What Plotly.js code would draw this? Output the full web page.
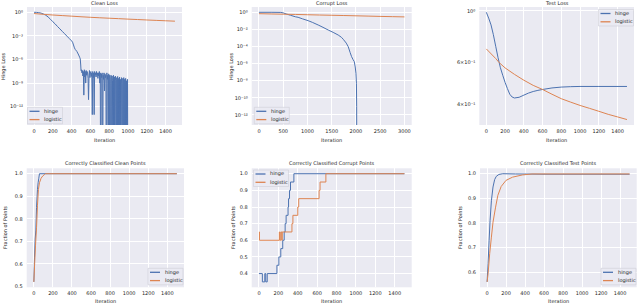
<!DOCTYPE html>
<html><head><meta charset="utf-8">
<script src="https://cdn.plot.ly/plotly-3.0.1.min.js"></script>
<style>html,body{margin:0;padding:0;background:#fff}#chart{width:640px;height:304px}</style>
</head><body><div id="chart"></div>
<script>
const seriesNames = ['hinge', 'logistic'];
const seriesColors = ['#4C72B0', '#DD8452'];

// ---- Clean Loss (top-left) ----
const cleanLossHingeIter = [0,25,50,75,100,125,150,175,200,225,250,275,300,325,350,375,400,410,420,430,440,455,470,485,492,497,500];
const cleanLossHingeVal = [1,0.97,0.9,0.78,0.6,0.42,0.25,0.13,0.063,0.033,0.0155,0.0078,0.0038,0.0019,9.3e-4,4.6e-4,2.3e-4,1.6e-4,7e-5,3e-5,1.8e-5,1.1e-5,5e-6,2e-6,1.2e-6,2e-7,4e-8];
const cleanLossHingeNoiseStart = 505;
const cleanLossHingeNoiseStep = 5;
const cleanLossHingeNoise = [
  5e-8,2e-8,4e-8,8e-9,3e-8,3e-11,5e-8,6e-9,3e-8,1e-9,4e-8,1e-8,3e-8,2e-8,4e-9,8e-12,1e-8,4e-8,5e-9,2e-8,
  3e-8,7e-9,2e-8,1e-13,3e-8,5e-9,2e-8,1e-13,3e-8,1e-8,2e-8,6e-9,3e-8,1e-8,2e-8,4e-9,2e-8,8e-9,3e-8,1e-9,
  2e-8,0,1.5e-8,5e-9,2e-8,0,1e-8,3e-9,2e-8,1e-10,1.5e-8,5e-9,1e-8,0,2e-8,3e-9,1e-8,0,1.5e-8,0,
  1e-8,3e-9,0,1e-8,0,8e-9,2e-9,0,1e-8,0,6e-9,0,8e-9,2e-9,0,5e-9,0,7e-9,0,4e-9,
  0,6e-9,0,3e-9,0,5e-9,1e-9,0,4e-9,0,5e-9,0,3e-9,0,4e-9,0,2e-9,0,3e-9,0
];
const cleanLossHingeTailIter = [1500];
const cleanLossHingeTailVal = [0];
const cleanLossLogisticIter = [0,100,200,300,400,500,600,700,800,900,1000,1100,1200,1300,1400,1500];
const cleanLossLogisticVal = [0.69,0.55,0.45,0.38,0.32,0.27,0.23,0.2,0.175,0.155,0.135,0.12,0.105,0.093,0.083,0.074];

// ---- Corrupt Loss (top-middle) ----
const corruptLossHingeIter = [0,250,450,500,566,650,750,807,900,1014,1100,1221,1300,1428,1530,1634,1700,1738,1800,1841,1880,1910,1940,1966,1985,2000,2010,2015,2020,3000];
const corruptLossHingeVal = [1,1,0.97,0.85,0.63,0.45,0.3,0.26,0.17,0.105,0.067,0.033,0.02,0.0085,0.0045,0.0022,0.0012,7e-4,2.5e-4,9.5e-5,2e-5,6.5e-6,3e-6,1.7e-6,4e-7,7.4e-8,5e-9,1e-11,0,0];
const corruptLossLogisticIter = [0,250,500,750,1000,1250,1500,1750,2000,2250,2500,2750,3000];
const corruptLossLogisticVal = [0.69,0.64,0.6,0.56,0.52,0.48,0.45,0.42,0.39,0.36,0.33,0.31,0.29];

// ---- Test Loss (top-right) ----
const testLossHingeIter = [0,25,50,75,100,125,150,175,200,225,250,275,300,350,400,450,500,550,600,700,800,900,1000,1200,1500];
const testLossHingeVal = [0.985,0.93,0.87,0.79,0.705,0.63,0.571,0.53,0.494,0.465,0.44,0.428,0.424,0.427,0.436,0.445,0.452,0.457,0.461,0.468,0.472,0.474,0.475,0.475,0.475];
const testLossLogisticIter = [0,100,138,200,300,400,500,600,700,800,900,1000,1100,1200,1300,1400,1500];
const testLossLogisticVal = [0.687,0.625,0.6,0.57,0.535,0.505,0.48,0.461,0.44,0.421,0.407,0.394,0.383,0.372,0.361,0.352,0.343];

// ---- Correctly Classified Clean Points (bottom-left) ----
const cleanAccHingeIter = [0,7,14,21,28,38,45,52,59,1500];
const cleanAccHingeVal = [0.52,0.63,0.71,0.75,0.85,0.93,0.96,0.98,1.0,1.0];
const cleanAccLogisticIter = [0,7,17,28,38,48,59,76,93,114,121,1500];
const cleanAccLogisticVal = [0.52,0.59,0.68,0.76,0.86,0.93,0.96,0.98,0.99,0.997,1.0,1.0];

// ---- Correctly Classified Corrupt Points (bottom-middle), step changes ----
const corruptAccHingeIter = [0,35,60,70,85,185,205,225,245,260,270,280,300,305,315,325,360,1500];
const corruptAccHingeVal = [0.40,0.35,0.40,0.35,0.40,0.45,0.50,0.55,0.60,0.65,0.70,0.75,0.80,0.85,0.90,0.95,1.00,1.00];
const corruptAccLogisticIter = [0,5,210,215,225,235,240,340,350,400,410,620,630,690,1500];
const corruptAccLogisticVal = [0.65,0.60,0.65,0.60,0.65,0.60,0.65,0.70,0.75,0.80,0.85,0.90,0.95,1.00,1.00];

// ---- Correctly Classified Test Points (bottom-right) ----
const testAccHingeIter = [0,10,21,31,45,62,79,96,124,165,300,600,1000,1500];
const testAccHingeVal = [0.56,0.634,0.729,0.81,0.89,0.946,0.976,0.989,0.997,1.0,0.999,0.998,0.998,0.998];
const testAccLogisticIter = [0,10,27,45,62,89,113,148,199,268,371,474,800,1500];
const testAccLogisticVal = [0.56,0.593,0.675,0.742,0.803,0.864,0.912,0.948,0.973,0.986,0.995,0.999,0.999,0.999];

// tick labels
const iterTicks1500 = [0,200,400,600,800,1000,1200,1400];
const iterTicks3000 = [0,500,1000,1500,2000,2500,3000];
const cleanLossTickVals = [1,1e-3,1e-6,1e-9,1e-12];
const cleanLossTickText = ['10⁰','10⁻³','10⁻⁶','10⁻⁹','10⁻¹²'];
const corruptLossTickVals = [1,1e-2,1e-4,1e-6,1e-8,1e-10,1e-12];
const corruptLossTickText = ['10⁰','10⁻²','10⁻⁴','10⁻⁶','10⁻⁸','10⁻¹⁰','10⁻¹²'];
const testLossTickVals = [1,0.6,0.4];
const testLossTickText = ['10⁰','6×10⁻¹','4×10⁻¹'];
const cleanAccTicks = [0.5,0.6,0.7,0.8,0.9,1.0];
const corruptAccTicks = [0.4,0.5,0.6,0.7,0.8,0.9,1.0];
const testAccTicks = [0.6,0.7,0.8,0.9,1.0];

// ------- build -------
const W = 640, H = 304;
const px = x => x / W;
const py = y => 1 - y / H;
const logSafe = arr => arr.map(v => v > 0 ? v : 1e-30); // zeros fall off the log axis, as in matplotlib

const noiseIter = cleanLossHingeNoise.map((_, i) => cleanLossHingeNoiseStart + i * cleanLossHingeNoiseStep);
const cleanHingeX = cleanLossHingeIter.concat(noiseIter, cleanLossHingeTailIter);
const cleanHingeY = cleanLossHingeVal.concat(cleanLossHingeNoise, cleanLossHingeTailVal);

function tr(x, y, k, xa, ya, shape) {
  return {x: x, y: y, type: 'scatter', mode: 'lines', name: seriesNames[k], showlegend: false,
    xaxis: xa, yaxis: ya, line: {color: seriesColors[k], width: 1, shape: shape || 'linear', simplify: false},
    hoverinfo: 'skip'};
}
const data = [
  tr(cleanHingeX, logSafe(cleanHingeY), 0, 'x', 'y'),
  tr(cleanLossLogisticIter, cleanLossLogisticVal, 1, 'x', 'y'),
  tr(corruptLossHingeIter, logSafe(corruptLossHingeVal), 0, 'x2', 'y2'),
  tr(corruptLossLogisticIter, corruptLossLogisticVal, 1, 'x2', 'y2'),
  tr(testLossHingeIter, testLossHingeVal, 0, 'x3', 'y3'),
  tr(testLossLogisticIter, testLossLogisticVal, 1, 'x3', 'y3'),
  tr(cleanAccHingeIter, cleanAccHingeVal, 0, 'x4', 'y4'),
  tr(cleanAccLogisticIter, cleanAccLogisticVal, 1, 'x4', 'y4'),
  tr(corruptAccHingeIter, corruptAccHingeVal, 0, 'x5', 'y5', 'hv'),
  tr(corruptAccLogisticIter, corruptAccLogisticVal, 1, 'x5', 'y5', 'hv'),
  tr(testAccHingeIter, testAccHingeVal, 0, 'x6', 'y6'),
  tr(testAccLogisticIter, testAccLogisticVal, 1, 'x6', 'y6')
];

const FONT = 'DejaVu Sans, sans-serif';
const TXT = '#262626';
const tickFont = {family: FONT, size: 5, color: TXT};
function xax(l, r, anchor, range, ticks) {
  return {domain: [px(l), px(r)], anchor: anchor, range: range, tickmode: 'array', tickvals: ticks,
    ticktext: ticks.map(String), showgrid: true, gridcolor: '#ffffff', gridwidth: 1, zeroline: false,
    showline: false, ticks: '', tickfont: tickFont, ticklabelstandoff: 2, fixedrange: true};
}
function yax(t, b, anchor, type, range, vals, text, grid) {
  return {domain: [py(b), py(t)], anchor: anchor, type: type, range: range, tickmode: 'array', tickvals: vals,
    ticktext: text, showgrid: grid !== false, gridcolor: '#ffffff', gridwidth: 1, zeroline: false,
    showline: false, ticks: '', tickfont: tickFont, ticklabelstandoff: 3, fixedrange: true};
}
const TOP = [7, 125], BOT = [168.3, 287.3];
const cols = [[27, 182], [251.7, 411.7], [479.3, 634], [26.7, 184], [251.7, 411.7], [480, 636.7]];

const layout = {
  width: W, height: H, margin: {l: 0, r: 0, t: 0, b: 0}, paper_bgcolor: '#ffffff', plot_bgcolor: '#EAEAF2',
  showlegend: false,
  xaxis: xax(cols[0][0], cols[0][1], 'y', [-75, 1575], iterTicks1500),
  yaxis: yax(TOP[0], TOP[1], 'x', 'log', [-14.32, 0.67], cleanLossTickVals, cleanLossTickText),
  xaxis2: xax(cols[1][0], cols[1][1], 'y2', [-150, 3150], iterTicks3000),
  yaxis2: yax(TOP[0], TOP[1], 'x2', 'log', [-13.18, 0.62], corruptLossTickVals, corruptLossTickText),
  xaxis3: xax(cols[2][0], cols[2][1], 'y3', [-75, 1575], iterTicks1500),
  yaxis3: Object.assign(yax(TOP[0], TOP[1], 'x3', 'log', [-0.488, 0.016], testLossTickVals, testLossTickText, false),
    {minor: {tickmode: 'array', tickvals: [1], showgrid: true, gridcolor: '#ffffff', gridwidth: 1, ticks: ''}}),
  xaxis4: xax(cols[3][0], cols[3][1], 'y4', [-75, 1575], iterTicks1500),
  yaxis4: yax(BOT[0], BOT[1], 'x4', 'linear', [0.496, 1.024], cleanAccTicks, cleanAccTicks.map(v => v.toFixed(1))),
  xaxis5: xax(cols[4][0], cols[4][1], 'y5', [-75, 1575], iterTicks1500),
  yaxis5: yax(BOT[0], BOT[1], 'x5', 'linear', [0.3175, 1.0325], corruptAccTicks, corruptAccTicks.map(v => v.toFixed(1))),
  xaxis6: xax(cols[5][0], cols[5][1], 'y6', [-75, 1575], iterTicks1500),
  yaxis6: yax(BOT[0], BOT[1], 'x6', 'linear', [0.538, 1.022], testAccTicks, testAccTicks.map(v => v.toFixed(1))),
  annotations: [], shapes: []
};

function label(text, x, y, size, angle) {
  layout.annotations.push({text: text, x: px(x), y: py(y), xref: 'paper', yref: 'paper', showarrow: false,
    xanchor: 'center', yanchor: 'middle', textangle: angle || 0, font: {family: FONT, size: size, color: TXT}});
}
const titles = ['Clean Loss', 'Corrupt Loss', 'Test Loss',
  'Correctly Classified Clean Points', 'Correctly Classified Corrupt Points', 'Correctly Classified Test Points'];
titles.forEach((t, i) => {
  const c = cols[i];
  label(t, (c[0] + c[1]) / 2, i < 3 ? 3.3 : 163.3, 5);
  label('Iteration', (c[0] + c[1]) / 2, i < 3 ? 140 : 300.5, 5);
});
label('Hinge Loss', 4, 66, 5, -90);
label('Hinge Loss', 232, 66, 5, -90);
label('Fraction of Points', 5, 228, 5, -90);
label('Fraction of Points', 233, 228, 5, -90);
label('Fraction of Points', 460, 228, 5, -90);

// legends: [box left, box top]
const legendPos = [[27.5, 107.3], [254.3, 107.3], [598.5, 9.5], [148, 268.3], [253.5, 170], [601, 268.3]];
legendPos.forEach(p => {
  const [L, T] = p;
  layout.shapes.push({type: 'rect', xref: 'paper', yref: 'paper', x0: px(L), x1: px(L + 35), y0: py(T + 16.5), y1: py(T),
    fillcolor: 'rgba(234,234,242,0.8)', line: {color: '#cfcfd6', width: 0.6}, layer: 'above'});
  seriesNames.forEach((n, k) => {
    const yy = T + 4 + k * 8.3;
    layout.shapes.push({type: 'line', xref: 'paper', yref: 'paper', x0: px(L + 2), x1: px(L + 12), y0: py(yy), y1: py(yy),
      line: {color: seriesColors[k], width: 1.3}, layer: 'above'});
    layout.annotations.push({text: n, x: px(L + 14.5), y: py(yy), xref: 'paper', yref: 'paper', showarrow: false,
      xanchor: 'left', yanchor: 'middle', font: {family: FONT, size: 5, color: TXT}});
  });
});

Plotly.newPlot('chart', data, layout, {displayModeBar: false, staticPlot: true});
</script></body></html>
